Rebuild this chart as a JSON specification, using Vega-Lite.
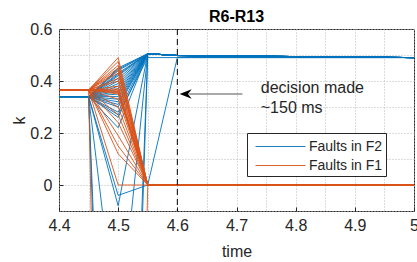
{
  "$schema": "https://vega.github.io/schema/vega-lite/v6.json",
  "width": 355,
  "height": 182,
  "autosize": "none",
  "padding": {"left": 59, "top": 29, "right": 3, "bottom": 51},
  "background": "white",
  "title": {"text": "R6-R13", "fontSize": 16, "fontWeight": "bold", "font": "Liberation Sans", "color": "#000000", "offset": -4},
  "config": {"view": {"stroke": "#262626", "strokeWidth": 1}, "font": "Liberation Sans"},
  "resolve": {"axis": {"x": "independent", "y": "independent"}},
  "datasets": {
    "lines": [
      {"s":"b01","g":"F2","t":4.4,"k":0.34},{"s":"b01","g":"F2","t":4.45,"k":0.34},{"s":"b01","g":"F2","t":4.5,"k":0.45},{"s":"b01","g":"F2","t":4.55,"k":0.505},{"s":"b01","g":"F2","t":4.6,"k":0.498},{"s":"b01","g":"F2","t":5,"k":0.49},
      {"s":"b02","g":"F2","t":4.4,"k":0.34},{"s":"b02","g":"F2","t":4.45,"k":0.34},{"s":"b02","g":"F2","t":4.5,"k":0.445},{"s":"b02","g":"F2","t":4.55,"k":0.505},{"s":"b02","g":"F2","t":4.6,"k":0.498},{"s":"b02","g":"F2","t":5,"k":0.49},
      {"s":"b03","g":"F2","t":4.4,"k":0.34},{"s":"b03","g":"F2","t":4.45,"k":0.34},{"s":"b03","g":"F2","t":4.5,"k":0.44},{"s":"b03","g":"F2","t":4.55,"k":0.505},{"s":"b03","g":"F2","t":4.6,"k":0.498},{"s":"b03","g":"F2","t":5,"k":0.49},
      {"s":"b04","g":"F2","t":4.4,"k":0.34},{"s":"b04","g":"F2","t":4.45,"k":0.34},{"s":"b04","g":"F2","t":4.5,"k":0.43},{"s":"b04","g":"F2","t":4.55,"k":0.505},{"s":"b04","g":"F2","t":4.6,"k":0.498},{"s":"b04","g":"F2","t":5,"k":0.49},
      {"s":"b05","g":"F2","t":4.4,"k":0.34},{"s":"b05","g":"F2","t":4.45,"k":0.34},{"s":"b05","g":"F2","t":4.5,"k":0.425},{"s":"b05","g":"F2","t":4.55,"k":0.505},{"s":"b05","g":"F2","t":4.6,"k":0.498},{"s":"b05","g":"F2","t":5,"k":0.49},
      {"s":"b06","g":"F2","t":4.4,"k":0.34},{"s":"b06","g":"F2","t":4.45,"k":0.34},{"s":"b06","g":"F2","t":4.5,"k":0.42},{"s":"b06","g":"F2","t":4.55,"k":0.505},{"s":"b06","g":"F2","t":4.6,"k":0.498},{"s":"b06","g":"F2","t":5,"k":0.49},
      {"s":"b07","g":"F2","t":4.4,"k":0.34},{"s":"b07","g":"F2","t":4.45,"k":0.34},{"s":"b07","g":"F2","t":4.5,"k":0.41},{"s":"b07","g":"F2","t":4.55,"k":0.505},{"s":"b07","g":"F2","t":4.6,"k":0.498},{"s":"b07","g":"F2","t":5,"k":0.49},
      {"s":"b08","g":"F2","t":4.4,"k":0.34},{"s":"b08","g":"F2","t":4.45,"k":0.34},{"s":"b08","g":"F2","t":4.5,"k":0.40},{"s":"b08","g":"F2","t":4.55,"k":0.505},{"s":"b08","g":"F2","t":4.6,"k":0.498},{"s":"b08","g":"F2","t":5,"k":0.49},
      {"s":"b09","g":"F2","t":4.4,"k":0.34},{"s":"b09","g":"F2","t":4.45,"k":0.34},{"s":"b09","g":"F2","t":4.5,"k":0.39},{"s":"b09","g":"F2","t":4.55,"k":0.505},{"s":"b09","g":"F2","t":4.6,"k":0.498},{"s":"b09","g":"F2","t":5,"k":0.49},
      {"s":"b10","g":"F2","t":4.4,"k":0.34},{"s":"b10","g":"F2","t":4.45,"k":0.34},{"s":"b10","g":"F2","t":4.5,"k":0.38},{"s":"b10","g":"F2","t":4.55,"k":0.505},{"s":"b10","g":"F2","t":4.6,"k":0.498},{"s":"b10","g":"F2","t":5,"k":0.49},
      {"s":"b11","g":"F2","t":4.4,"k":0.34},{"s":"b11","g":"F2","t":4.45,"k":0.34},{"s":"b11","g":"F2","t":4.5,"k":0.37},{"s":"b11","g":"F2","t":4.55,"k":0.505},{"s":"b11","g":"F2","t":4.6,"k":0.498},{"s":"b11","g":"F2","t":5,"k":0.49},
      {"s":"b12","g":"F2","t":4.4,"k":0.34},{"s":"b12","g":"F2","t":4.45,"k":0.34},{"s":"b12","g":"F2","t":4.5,"k":0.36},{"s":"b12","g":"F2","t":4.55,"k":0.505},{"s":"b12","g":"F2","t":4.6,"k":0.498},{"s":"b12","g":"F2","t":5,"k":0.49},
      {"s":"b13","g":"F2","t":4.4,"k":0.34},{"s":"b13","g":"F2","t":4.45,"k":0.34},{"s":"b13","g":"F2","t":4.5,"k":0.35},{"s":"b13","g":"F2","t":4.55,"k":0.505},{"s":"b13","g":"F2","t":4.6,"k":0.498},{"s":"b13","g":"F2","t":5,"k":0.49},
      {"s":"b14","g":"F2","t":4.4,"k":0.34},{"s":"b14","g":"F2","t":4.45,"k":0.34},{"s":"b14","g":"F2","t":4.5,"k":0.34},{"s":"b14","g":"F2","t":4.55,"k":0.505},{"s":"b14","g":"F2","t":4.6,"k":0.498},{"s":"b14","g":"F2","t":5,"k":0.49},
      {"s":"b15","g":"F2","t":4.4,"k":0.34},{"s":"b15","g":"F2","t":4.45,"k":0.34},{"s":"b15","g":"F2","t":4.5,"k":0.33},{"s":"b15","g":"F2","t":4.55,"k":0.505},{"s":"b15","g":"F2","t":4.6,"k":0.498},{"s":"b15","g":"F2","t":5,"k":0.49},
      {"s":"b16","g":"F2","t":4.4,"k":0.34},{"s":"b16","g":"F2","t":4.45,"k":0.34},{"s":"b16","g":"F2","t":4.5,"k":0.32},{"s":"b16","g":"F2","t":4.55,"k":0.505},{"s":"b16","g":"F2","t":4.6,"k":0.498},{"s":"b16","g":"F2","t":5,"k":0.49},
      {"s":"b17","g":"F2","t":4.4,"k":0.34},{"s":"b17","g":"F2","t":4.45,"k":0.34},{"s":"b17","g":"F2","t":4.5,"k":0.31},{"s":"b17","g":"F2","t":4.55,"k":0.505},{"s":"b17","g":"F2","t":4.6,"k":0.498},{"s":"b17","g":"F2","t":5,"k":0.49},
      {"s":"b18","g":"F2","t":4.4,"k":0.34},{"s":"b18","g":"F2","t":4.45,"k":0.34},{"s":"b18","g":"F2","t":4.5,"k":0.30},{"s":"b18","g":"F2","t":4.55,"k":0.505},{"s":"b18","g":"F2","t":4.6,"k":0.498},{"s":"b18","g":"F2","t":5,"k":0.49},
      {"s":"b19","g":"F2","t":4.4,"k":0.34},{"s":"b19","g":"F2","t":4.45,"k":0.34},{"s":"b19","g":"F2","t":4.5,"k":0.28},{"s":"b19","g":"F2","t":4.55,"k":0.505},{"s":"b19","g":"F2","t":4.6,"k":0.498},{"s":"b19","g":"F2","t":5,"k":0.49},
      {"s":"b20","g":"F2","t":4.4,"k":0.34},{"s":"b20","g":"F2","t":4.45,"k":0.34},{"s":"b20","g":"F2","t":4.5,"k":0.26},{"s":"b20","g":"F2","t":4.55,"k":0.505},{"s":"b20","g":"F2","t":4.6,"k":0.498},{"s":"b20","g":"F2","t":5,"k":0.49},
      {"s":"b21","g":"F2","t":4.4,"k":0.34},{"s":"b21","g":"F2","t":4.45,"k":0.34},{"s":"b21","g":"F2","t":4.5,"k":0.22},{"s":"b21","g":"F2","t":4.55,"k":0.505},{"s":"b21","g":"F2","t":4.6,"k":0.498},{"s":"b21","g":"F2","t":5,"k":0.49},
      {"s":"b22","g":"F2","t":4.4,"k":0.34},{"s":"b22","g":"F2","t":4.45,"k":0.34},{"s":"b22","g":"F2","t":4.5,"k":-3},{"s":"b22","g":"F2","t":4.55,"k":0.505},{"s":"b22","g":"F2","t":4.6,"k":0.498},{"s":"b22","g":"F2","t":5,"k":0.49},
      {"s":"b23","g":"F2","t":4.4,"k":0.34},{"s":"b23","g":"F2","t":4.45,"k":0.34},{"s":"b23","g":"F2","t":4.5,"k":-2.5},{"s":"b23","g":"F2","t":4.55,"k":0.505},{"s":"b23","g":"F2","t":4.6,"k":0.498},{"s":"b23","g":"F2","t":5,"k":0.49},
      {"s":"b24","g":"F2","t":4.4,"k":0.34},{"s":"b24","g":"F2","t":4.45,"k":0.34},{"s":"b24","g":"F2","t":4.5,"k":-0.6},{"s":"b24","g":"F2","t":4.55,"k":0.505},{"s":"b24","g":"F2","t":4.6,"k":0.498},{"s":"b24","g":"F2","t":5,"k":0.49},
      {"s":"b25","g":"F2","t":4.4,"k":0.34},{"s":"b25","g":"F2","t":4.45,"k":0.34},{"s":"b25","g":"F2","t":4.5,"k":-0.04},{"s":"b25","g":"F2","t":4.55,"k":0},{"s":"b25","g":"F2","t":4.6,"k":0.49},{"s":"b25","g":"F2","t":5,"k":0.49},
      {"s":"b26","g":"F2","t":4.4,"k":0.34},{"s":"b26","g":"F2","t":4.45,"k":0.34},{"s":"b26","g":"F2","t":4.5,"k":-0.08},{"s":"b26","g":"F2","t":4.55,"k":0.505},{"s":"b26","g":"F2","t":4.6,"k":0.498},{"s":"b26","g":"F2","t":5,"k":0.49},
      {"s":"b27","g":"F2","t":4.4,"k":0.34},{"s":"b27","g":"F2","t":4.45,"k":0.34},{"s":"b27","g":"F2","t":4.5,"k":0.27},{"s":"b27","g":"F2","t":4.55,"k":0.49},{"s":"b27","g":"F2","t":4.6,"k":0.49},{"s":"b27","g":"F2","t":5,"k":0.49},
      {"s":"o01","g":"F1","t":4.4,"k":0.365},{"s":"o01","g":"F1","t":4.45,"k":0.365},{"s":"o01","g":"F1","t":4.5,"k":0.49},{"s":"o01","g":"F1","t":4.55,"k":0},{"s":"o01","g":"F1","t":5,"k":0},
      {"s":"o02","g":"F1","t":4.4,"k":0.365},{"s":"o02","g":"F1","t":4.45,"k":0.365},{"s":"o02","g":"F1","t":4.5,"k":0.475},{"s":"o02","g":"F1","t":4.55,"k":0},{"s":"o02","g":"F1","t":5,"k":0},
      {"s":"o03","g":"F1","t":4.4,"k":0.365},{"s":"o03","g":"F1","t":4.45,"k":0.365},{"s":"o03","g":"F1","t":4.5,"k":0.46},{"s":"o03","g":"F1","t":4.55,"k":0},{"s":"o03","g":"F1","t":5,"k":0},
      {"s":"o04","g":"F1","t":4.4,"k":0.365},{"s":"o04","g":"F1","t":4.45,"k":0.365},{"s":"o04","g":"F1","t":4.5,"k":0.45},{"s":"o04","g":"F1","t":4.55,"k":0},{"s":"o04","g":"F1","t":5,"k":0},
      {"s":"o05","g":"F1","t":4.4,"k":0.365},{"s":"o05","g":"F1","t":4.45,"k":0.365},{"s":"o05","g":"F1","t":4.5,"k":0.44},{"s":"o05","g":"F1","t":4.55,"k":0},{"s":"o05","g":"F1","t":5,"k":0},
      {"s":"o06","g":"F1","t":4.4,"k":0.365},{"s":"o06","g":"F1","t":4.45,"k":0.365},{"s":"o06","g":"F1","t":4.5,"k":0.43},{"s":"o06","g":"F1","t":4.55,"k":0},{"s":"o06","g":"F1","t":5,"k":0},
      {"s":"o07","g":"F1","t":4.4,"k":0.365},{"s":"o07","g":"F1","t":4.45,"k":0.365},{"s":"o07","g":"F1","t":4.5,"k":0.41},{"s":"o07","g":"F1","t":4.55,"k":0},{"s":"o07","g":"F1","t":5,"k":0},
      {"s":"o08","g":"F1","t":4.4,"k":0.365},{"s":"o08","g":"F1","t":4.45,"k":0.365},{"s":"o08","g":"F1","t":4.5,"k":0.40},{"s":"o08","g":"F1","t":4.55,"k":0},{"s":"o08","g":"F1","t":5,"k":0},
      {"s":"o09","g":"F1","t":4.4,"k":0.365},{"s":"o09","g":"F1","t":4.45,"k":0.365},{"s":"o09","g":"F1","t":4.5,"k":0.38},{"s":"o09","g":"F1","t":4.55,"k":0},{"s":"o09","g":"F1","t":5,"k":0},
      {"s":"o10","g":"F1","t":4.4,"k":0.365},{"s":"o10","g":"F1","t":4.45,"k":0.365},{"s":"o10","g":"F1","t":4.5,"k":0.37},{"s":"o10","g":"F1","t":4.55,"k":0},{"s":"o10","g":"F1","t":5,"k":0},
      {"s":"o11","g":"F1","t":4.4,"k":0.365},{"s":"o11","g":"F1","t":4.45,"k":0.365},{"s":"o11","g":"F1","t":4.5,"k":0.365},{"s":"o11","g":"F1","t":4.55,"k":0},{"s":"o11","g":"F1","t":5,"k":0},
      {"s":"o12","g":"F1","t":4.4,"k":0.365},{"s":"o12","g":"F1","t":4.45,"k":0.365},{"s":"o12","g":"F1","t":4.5,"k":0.36},{"s":"o12","g":"F1","t":4.55,"k":0},{"s":"o12","g":"F1","t":5,"k":0},
      {"s":"o13","g":"F1","t":4.4,"k":0.365},{"s":"o13","g":"F1","t":4.45,"k":0.365},{"s":"o13","g":"F1","t":4.5,"k":0.36},{"s":"o13","g":"F1","t":4.55,"k":0},{"s":"o13","g":"F1","t":5,"k":0},
      {"s":"o14","g":"F1","t":4.4,"k":0.365},{"s":"o14","g":"F1","t":4.45,"k":0.365},{"s":"o14","g":"F1","t":4.5,"k":0.355},{"s":"o14","g":"F1","t":4.55,"k":0},{"s":"o14","g":"F1","t":5,"k":0},
      {"s":"o15","g":"F1","t":4.4,"k":0.365},{"s":"o15","g":"F1","t":4.45,"k":0.365},{"s":"o15","g":"F1","t":4.5,"k":0.35},{"s":"o15","g":"F1","t":4.55,"k":0},{"s":"o15","g":"F1","t":5,"k":0},
      {"s":"o16","g":"F1","t":4.4,"k":0.365},{"s":"o16","g":"F1","t":4.45,"k":0.365},{"s":"o16","g":"F1","t":4.5,"k":0.33},{"s":"o16","g":"F1","t":4.55,"k":0},{"s":"o16","g":"F1","t":5,"k":0},
      {"s":"o17","g":"F1","t":4.4,"k":0.365},{"s":"o17","g":"F1","t":4.45,"k":0.365},{"s":"o17","g":"F1","t":4.5,"k":0.30},{"s":"o17","g":"F1","t":4.55,"k":0},{"s":"o17","g":"F1","t":5,"k":0},
      {"s":"o18","g":"F1","t":4.4,"k":0.365},{"s":"o18","g":"F1","t":4.45,"k":0.365},{"s":"o18","g":"F1","t":4.5,"k":0.27},{"s":"o18","g":"F1","t":4.55,"k":0},{"s":"o18","g":"F1","t":5,"k":0},
      {"s":"o19","g":"F1","t":4.4,"k":0.365},{"s":"o19","g":"F1","t":4.45,"k":0.365},{"s":"o19","g":"F1","t":4.5,"k":0.24},{"s":"o19","g":"F1","t":4.55,"k":0},{"s":"o19","g":"F1","t":5,"k":0},
      {"s":"o20","g":"F1","t":4.4,"k":0.365},{"s":"o20","g":"F1","t":4.45,"k":0.365},{"s":"o20","g":"F1","t":4.5,"k":0.19},{"s":"o20","g":"F1","t":4.55,"k":0},{"s":"o20","g":"F1","t":5,"k":0},
      {"s":"o21","g":"F1","t":4.4,"k":0.365},{"s":"o21","g":"F1","t":4.45,"k":0.365},{"s":"o21","g":"F1","t":4.5,"k":0.15},{"s":"o21","g":"F1","t":4.55,"k":0},{"s":"o21","g":"F1","t":5,"k":0},
      {"s":"o22","g":"F1","t":4.4,"k":0.365},{"s":"o22","g":"F1","t":4.45,"k":0.365},{"s":"o22","g":"F1","t":4.5,"k":0.12},{"s":"o22","g":"F1","t":4.55,"k":0},{"s":"o22","g":"F1","t":5,"k":0},
      {"s":"o23","g":"F1","t":4.4,"k":0.365},{"s":"o23","g":"F1","t":4.45,"k":0.365},{"s":"o23","g":"F1","t":4.5,"k":0},{"s":"o23","g":"F1","t":4.55,"k":0},{"s":"o23","g":"F1","t":5,"k":0},
      {"s":"o24","g":"F1","t":4.4,"k":0.365},{"s":"o24","g":"F1","t":4.45,"k":0.365},{"s":"o24","g":"F1","t":4.5,"k":-5},{"s":"o24","g":"F1","t":4.55,"k":0},{"s":"o24","g":"F1","t":5,"k":0}
    ]
  },
  "layer": [
    {
      "data": {"name": "lines"},
      "transform": [{"filter": "datum.g === 'F2'"}],
      "mark": {"type": "line", "clip": true, "strokeWidth": 1, "opacity": 0.9},
      "encoding": {
        "x": {
          "field": "t", "type": "quantitative",
          "scale": {"domain": [4.4, 5], "nice": false, "zero": false},
          "axis": {
            "orient": "bottom", "title": "time",
            "values": [4.4, 4.5, 4.6, 4.7, 4.8, 4.9, 5],
            "format": ".1~f", "labelOverlap": false,
            "grid": true, "gridDash": [1, 2], "gridColor": "#b8b8b8",
            "domain": false, "tickSize": -4, "tickColor": "#262626",
            "labelFontSize": 16, "labelColor": "#262626", "labelPadding": 10, "labelFlush": false,
            "titleFontSize": 16, "titleFontWeight": "normal", "titleColor": "#262626", "titlePadding": 10
          }
        },
        "y": {
          "field": "k", "type": "quantitative",
          "scale": {"domain": [-0.1, 0.6], "nice": false, "zero": false},
          "axis": {
            "orient": "left", "title": "k",
            "values": [0, 0.2, 0.4, 0.6],
            "format": ".1~f", "labelOverlap": false,
            "grid": true, "gridDash": [1, 2], "gridColor": "#b8b8b8",
            "domain": false, "tickSize": -4, "tickColor": "#262626",
            "labelFontSize": 16, "labelColor": "#262626", "labelPadding": 11, "labelFlush": false,
            "titleFontSize": 16, "titleFontWeight": "normal", "titleColor": "#262626", "titlePadding": 2
          }
        },
        "detail": {"field": "s"},
        "color": {
          "field": "g", "type": "nominal",
          "scale": {"domain": ["F2", "F1"], "range": ["#0072BD", "#D95319"]},
          "legend": {
            "orient": "none", "legendX": 188, "legendY": 104, "title": null,
            "labelExpr": "'Faults in ' + datum.label",
            "symbolType": "M-2.5,0H2.5", "symbolSize": 400, "symbolStrokeWidth": 1,
            "symbolOffset": 20, "symbolFillColor": "transparent",
            "labelFontSize": 14, "labelColor": "#262626", "labelOffset": 18,
            "strokeColor": "#262626", "fillColor": "white", "padding": 3, "rowPadding": 1
          }
        }
      }
    },
    {
      "data": {"name": "lines"},
      "transform": [{"filter": "datum.g === 'F1'"}],
      "mark": {"type": "line", "clip": true, "strokeWidth": 1, "opacity": 0.9},
      "encoding": {
        "x": {
          "field": "t", "type": "quantitative",
          "axis": {"orient": "bottom", "title": null, "values": [4.45, 4.55, 4.65, 4.75, 4.85, 4.95], "labels": false, "ticks": false, "domain": false, "grid": true, "gridDash": [1, 2], "gridColor": "#b8b8b8"}
        },
        "y": {
          "field": "k", "type": "quantitative",
          "axis": {"orient": "left", "title": null, "values": [-0.1, 0.1, 0.3, 0.5], "labels": false, "ticks": false, "domain": false, "grid": true, "gridDash": [1, 2], "gridColor": "#b8b8b8"}
        },
        "detail": {"field": "s"},
        "color": {"field": "g", "type": "nominal"}
      }
    },
    {
      "data": {"values": [{}]},
      "mark": {"type": "rule", "strokeDash": [6, 4], "color": "#000000", "strokeWidth": 1},
      "encoding": {"x": {"datum": 4.6, "axis": null}}
    },
    {
      "data": {"values": [{}]},
      "mark": {"type": "rule", "color": "#555555", "strokeWidth": 1.2},
      "encoding": {"x": {"datum": 4.62, "axis": null}, "x2": {"datum": 4.71}, "y": {"datum": 0.35, "axis": null}}
    },
    {
      "data": {"values": [{}]},
      "mark": {"type": "point", "filled": true, "color": "#000000", "opacity": 1, "size": 144, "shape": "M-1,0L1,-0.8L0.4,0L1,0.8Z"},
      "encoding": {"x": {"datum": 4.614, "axis": null}, "y": {"datum": 0.35, "axis": null}}
    },
    {
      "data": {"values": [{}]},
      "mark": {"type": "text", "text": "decision made", "align": "left", "baseline": "middle", "fontSize": 16, "color": "#262626"},
      "encoding": {"x": {"datum": 4.741, "axis": null}, "y": {"datum": 0.375, "axis": null}}
    },
    {
      "data": {"values": [{}]},
      "mark": {"type": "text", "text": "~150 ms", "align": "left", "baseline": "middle", "fontSize": 16, "color": "#262626"},
      "encoding": {"x": {"datum": 4.741, "axis": null}, "y": {"datum": 0.298, "axis": null}}
    }
  ]
}
